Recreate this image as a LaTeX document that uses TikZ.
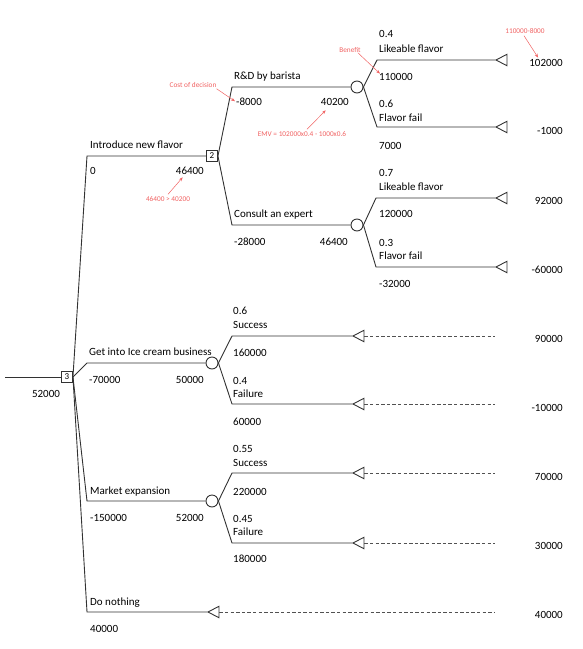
\documentclass[tikz,border=0pt]{standalone}
\usepackage{fontspec}
\setmainfont{Carlito}
\usetikzlibrary{arrows.meta,positioning,calc,shapes.geometric}
\definecolor{annot}{RGB}{240,98,98}
\definecolor{treeline}{RGB}{50,50,50}
\tikzset{
  >=stealth,
  font=\fontsize{11}{13}\selectfont,
  decn/.style ={draw=treeline, line width=0.9pt, minimum size=11pt, inner sep=0pt, font=\fontsize{9}{10}\selectfont},
  chnc/.style ={draw=treeline, line width=0.9pt, circle, minimum size=12pt, inner sep=0pt},
  endn/.style ={draw=treeline, line width=0.9pt, isosceles triangle, shape border rotate=180,
                isosceles triangle apex angle=55, minimum height=11pt, minimum width=11pt, inner sep=0pt, anchor=apex},
  br/.style   ={draw=treeline, line width=0.9pt},
  dsh/.style  ={draw=treeline!85, line width=0.9pt, dash pattern=on 3.3pt off 2.3pt},
  txt/.style  ={anchor=base west, inner sep=0pt},
  val/.style  ={anchor=base east, inner sep=0pt},
  note/.style ={text=annot, font=\fontsize{7.3}{8}\selectfont, inner sep=0pt},
  narr/.style ={-{Stealth[length=4pt,width=3pt]}, annot, line width=0.5pt},
}

\begin{document}
\begin{tikzpicture}[x=1pt, y=-1pt]
  \useasboundingbox (0,0) rectangle (583,649);

  % decision and chance nodes
  \coordinate (in) at (5,377);
  \node[decn] (d3) at (67,377) {3};
  \node[decn] (d2) at (212,156) {2};
  \node[chnc] (c1) at (357,87) {};
  \node[chnc] (c2) at (357,225) {};
  \node[chnc] (c3) at (212,363) {};
  \node[chnc] (c4) at (212,501) {};

  % branch corners
  \coordinate (bnew) at (87,156);
  \coordinate (bice) at (87,363);
  \coordinate (bmkt) at (87,501);
  \coordinate (bnon) at (87,612);
  \coordinate (brd)  at (232,87);
  \coordinate (bexp) at (232,225);
  \coordinate (brd1) at (377,60);
  \coordinate (brd2) at (377,127);
  \coordinate (bex1) at (376,198);
  \coordinate (bex2) at (376,267);
  \coordinate (bic1) at (232,336);
  \coordinate (bic2) at (232,404);
  \coordinate (bmk1) at (232,473);
  \coordinate (bmk2) at (232,543);

  % end nodes
  \node[endn] (t1) at (495,60) {};
  \node[endn] (t2) at (495,127) {};
  \node[endn] (t3) at (495,198) {};
  \node[endn] (t4) at (495,267) {};
  \node[endn] (t5) at (352,336) {};
  \node[endn] (t6) at (352,404) {};
  \node[endn] (t7) at (352,473) {};
  \node[endn] (t8) at (352,543) {};
  \node[endn] (t9) at (207,612) {};
  \coordinate (e5) at (495,336);
  \coordinate (e6) at (495,404);
  \coordinate (e7) at (495,473);
  \coordinate (e8) at (495,543);
  \coordinate (e9) at (495,612);

  % tree
  \draw[br] (in) -- (d3.west);
  \draw[br] (d3.east) -- (bnew) -- (d2.west);
  \draw[br] (d3.east) -- (bice) -- (c3.west);
  \draw[br] (d3.east) -- (bmkt) -- (c4.west);
  \draw[br] (d3.east) -- (bnon) -- (t9.apex);
  \draw[br] (d2.east) -- (brd) -- (c1.west);
  \draw[br] (d2.east) -- (bexp) -- (c2.west);
  \draw[br] (c1.east) -- (brd1) -- (t1.apex);
  \draw[br] (c1.east) -- (brd2) -- (t2.apex);
  \draw[br] (c2.east) -- (bex1) -- (t3.apex);
  \draw[br] (c2.east) -- (bex2) -- (t4.apex);
  \draw[br] (c3.east) -- (bic1) -- (t5.apex);
  \draw[br] (c3.east) -- (bic2) -- (t6.apex);
  \draw[br] (c4.east) -- (bmk1) -- (t7.apex);
  \draw[br] (c4.east) -- (bmk2) -- (t8.apex);
  \draw[dsh] (t5.lower side) -- (e5);
  \draw[dsh] (t6.lower side) -- (e6);
  \draw[dsh] (t7.lower side) -- (e7);
  \draw[dsh] (t8.lower side) -- (e8);
  \draw[dsh] (t9.lower side) -- (e9);

  % decision branch labels
  \node[inner sep=0pt, anchor=base] (d3v) at (46,397) {52000};
  \node[txt] (newn) at (90,148) {Introduce new flavor};
  \node[txt] (newc) at (90,174) {0};
  \node[val] (newv) at (204,174) {46400};
  \node[txt] (rdn)  at (234,79) {R\&D by barista};
  \node[txt] (rdc)  at (236,105) {-8000};
  \node[val] (rdv)  at (349,105) {40200};
  \node[txt] (expn) at (234,217) {Consult an expert};
  \node[txt] (expc) at (234,245) {-28000};
  \node[val] (expv) at (348,245) {46400};
  \node[txt] (icen) at (89,355) {Get into Ice cream business};
  \node[txt] (icec) at (89,383) {-70000};
  \node[val] (icev) at (204,383) {50000};
  \node[txt] (mktn) at (90,494) {Market expansion};
  \node[txt] (mktc) at (90,521) {-150000};
  \node[val] (mktv) at (204,521) {52000};
  \node[txt] (nonn) at (90,605) {Do nothing};
  \node[txt] (nonc) at (90,632) {40000};

  % chance branch labels
  \node[txt] (p1) at (379,37) {0.4};
  \node[txt] (n1) at (379,52) {Likeable flavor};
  \node[txt] (v1) at (379,80) {110000};
  \node[txt] (p2) at (379,107) {0.6};
  \node[txt] (n2) at (379,121) {Flavor fail};
  \node[txt] (v2) at (379,149) {7000};
  \node[txt] (p3) at (379,176) {0.7};
  \node[txt] (n3) at (379,190) {Likeable flavor};
  \node[txt] (v3) at (379,217) {120000};
  \node[txt] (p4) at (379,246) {0.3};
  \node[txt] (n4) at (379,259) {Flavor fail};
  \node[txt] (v4) at (379,287) {-32000};
  \node[txt] (p5) at (233,314) {0.6};
  \node[txt] (n5) at (233,328) {Success};
  \node[txt] (v5) at (233,356) {160000};
  \node[txt] (p6) at (233,384) {0.4};
  \node[txt] (n6) at (233,397) {Failure};
  \node[txt] (v6) at (233,425) {60000};
  \node[txt] (p7) at (233,452) {0.55};
  \node[txt] (n7) at (233,466) {Success};
  \node[txt] (v7) at (233,495) {220000};
  \node[txt] (p8) at (233,522) {0.45};
  \node[txt] (n8) at (233,535) {Failure};
  \node[txt] (v8) at (233,562) {180000};

  % payoffs
  \node[val] (r1) at (563,66)  {102000};
  \node[val] (r2) at (563,134) {-1000};
  \node[val] (r3) at (563,204) {92000};
  \node[val] (r4) at (563,273) {-60000};
  \node[val] (r5) at (563,342) {90000};
  \node[val] (r6) at (563,411) {-10000};
  \node[val] (r7) at (563,480) {70000};
  \node[val] (r8) at (563,549) {30000};
  \node[val] (r9) at (563,618) {40000};

  % notes
  \node[note] (cod) at (193,85)  {Cost of decision};
  \node[note] (ben) at (350,50)  {Benefit};
  \node[note] (sub) at (525,31)  {110000-8000};
  \node[note] (emv) at (302,134) {EMV = 102000x0.4 - 1000x0.6};
  \node[note] (cmp) at (168,199) {46400 > 40200};
  \draw[narr] ([yshift=-1pt]cod.south east) -- ([xshift=-1pt]rdc.west);
  \draw[narr] ([xshift=-3pt]ben.south east) -- ([xshift=1pt,yshift=-1pt]v1.north west);
  \draw[narr] ([xshift=-1pt,yshift=-2pt]sub.south) -- ([xshift=9pt,yshift=1pt]r1.north west);
  \draw[narr] ([xshift=5pt,yshift=2pt]emv.north) -- ([xshift=5pt,yshift=-5pt]rdv.south west);
  \draw[narr] ([yshift=2pt]cmp.north) -- ([xshift=7pt,yshift=-3pt]newv.south west);
\end{tikzpicture}
\end{document}
